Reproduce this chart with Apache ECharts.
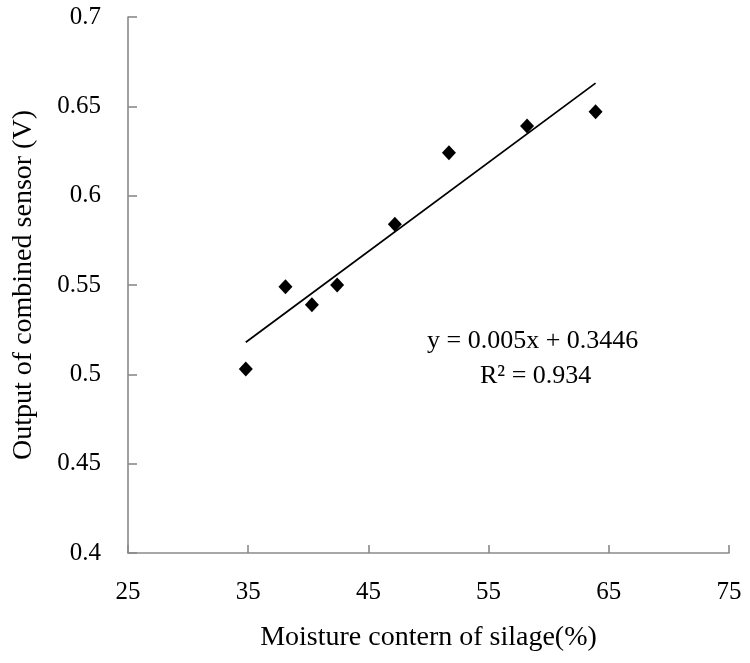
<!DOCTYPE html>
<html>
<head>
<meta charset="utf-8">
<script src="https://cdn.jsdelivr.net/npm/echarts@6/dist/echarts.min.js"></script>
<style>
html,body{margin:0;padding:0;background:#fff;}
#c{width:750px;height:663px;}
</style>
</head>
<body>
<div id="c"></div>
<script>
// Data
const moisture = [34.8, 38.1, 40.3, 42.4, 47.2, 51.7, 58.2, 63.9];
const sensorOutput = [0.503, 0.549, 0.539, 0.550, 0.584, 0.624, 0.639, 0.647];
const trendX = [34.8, 63.9];
const trendY = [0.518, 0.663];
const equationText = 'y = 0.005x + 0.3446';
const r2Text = 'R² = 0.934';
const xTitle = 'Moisture contern of silage(%)';
const yTitle = 'Output of combined sensor (V)';

const FONT = '"Liberation Serif", serif';
const AXIS_COLOR = '#8a8a8a';

const chart = echarts.init(document.getElementById('c'), null, {renderer: 'canvas'});
const axisCommon = {
  axisLine: {show: true, lineStyle: {color: AXIS_COLOR, width: 1.6}},
  axisTick: {show: true, inside: true, lineStyle: {color: AXIS_COLOR, width: 1.6}},
  splitLine: {show: false},
  nameLocation: 'middle',
  nameTextStyle: {fontFamily: FONT, fontSize: 28, color: '#000'}
};
chart.setOption({
  animation: false,
  backgroundColor: '#fff',
  grid: {left: 128, right: 21, top: 17, bottom: 110, containLabel: false},
  xAxis: Object.assign({}, axisCommon, {
    type: 'value', min: 25, max: 75, interval: 10,
    name: xTitle, nameGap: 71,
    axisTick: Object.assign({}, axisCommon.axisTick, {length: 8}),
    axisLabel: {fontFamily: FONT, fontSize: 25, color: '#000', margin: 27}
  }),
  yAxis: Object.assign({}, axisCommon, {
    type: 'value', min: 0.4, max: 0.7, interval: 0.05,
    name: yTitle, nameGap: 90,
    axisTick: Object.assign({}, axisCommon.axisTick, {length: 9}),
    axisLabel: {fontFamily: FONT, fontSize: 25, color: '#000', margin: 27,
      formatter: v => String(parseFloat(v.toFixed(2)))}
  }),
  series: [
    {
      type: 'line',
      data: trendX.map((x, i) => [x, trendY[i]]),
      symbol: 'none',
      lineStyle: {color: '#000', width: 1.8},
      silent: true,
      z: 1
    },
    {
      type: 'scatter',
      data: moisture.map((x, i) => [x, sensorOutput[i]]),
      symbol: 'diamond',
      symbolSize: [14, 15],
      itemStyle: {color: '#000', opacity: 1},
      z: 2
    }
  ],
  graphic: [
    {type: 'text', left: 427, top: 328, style: {text: equationText, font: '26px "Liberation Serif", serif', fill: '#000'}},
    {type: 'text', left: 480, top: 363, style: {text: r2Text, font: '26px "Liberation Serif", serif', fill: '#000'}}
  ]
});
</script>
</body>
</html>
